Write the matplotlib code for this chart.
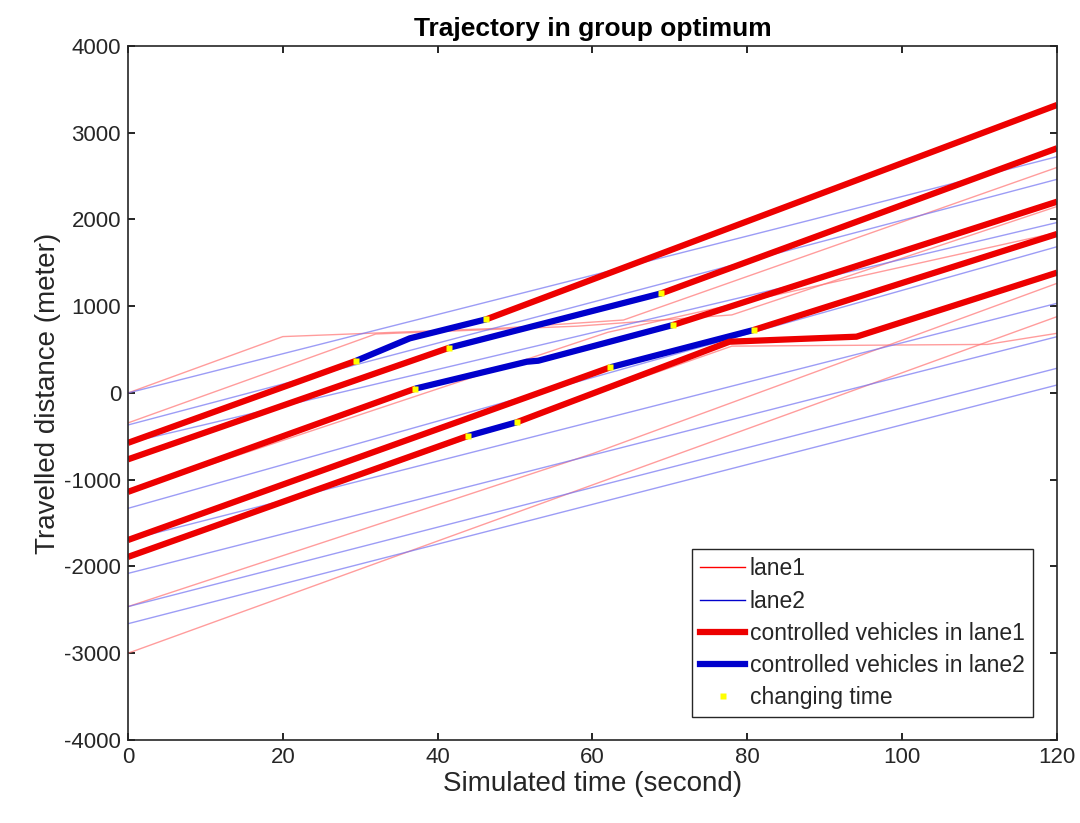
import matplotlib
matplotlib.use('Agg')
from matplotlib import pyplot as plt
from matplotlib.lines import Line2D

plt.rcParams['font.family'] = ['Liberation Sans', 'DejaVu Sans']
plt.rcParams['axes.unicode_minus'] = False

# thin trajectories, lane 1 (time in s, distance in m)
lane1_t = [
    [0, 20, 48, 64, 120],
    [0, 32, 58, 78, 120],
    [0, 62, 120],
    [0, 120],
    [0, 60, 120],
    [0, 78, 111, 120],
]
lane1_d = [
    [0, 650, 746, 841, 2600],
    [-345, 680, 770, 900, 2150],
    [-1140, 700, 1850],
    [-3000, 880],
    [-2463, -700, 1264],
    [-1890, 540, 560, 688],
]

# thin trajectories, lane 2
lane2_t = [
    [0, 88, 120],
    [0, 120],
    [0, 120],
    [0, 120],
    [0, 120],
    [0, 120],
    [0, 120],
    [0, 120],
]
lane2_d = [
    [0, 1990, 2724],
    [-369, 2463],
    [-575, 1965],
    [-1330, 1686],
    [-1695, 1034],
    [-2080, 649],
    [-2463, 285],
    [-2660, 92],
]

# controlled vehicles: list of (lane, t, d) segments
ctrl = [
    [(1, [0, 29.5], [-575, 372]),
     (2, [29.5, 36.4, 46.3], [372, 630, 850]),
     (1, [46.3, 120], [850, 3320])],
    [(1, [0, 41.5], [-765, 522]),
     (2, [41.5, 68.9], [522, 1149]),
     (1, [68.9, 120], [1149, 2821])],
    [(1, [0, 37.1], [-1140, 50]),
     (2, [37.1, 51.5, 53, 70.4], [50, 360, 372, 784]),
     (1, [70.4, 120], [784, 2205])],
    [(1, [0, 62.3], [-1695, 296]),
     (2, [62.3, 80.8], [296, 726]),
     (1, [80.8, 120], [726, 1833])],
    [(1, [0, 43.9], [-1890, -496]),
     (2, [43.9, 50.2], [-496, -338]),
     (1, [50.2, 77.7, 94.1, 120], [-338, 591, 649, 1387])],
]

# lane-change instants
change_t = [29.5, 41.5, 37.1, 46.3, 62.3, 68.9, 70.4, 80.8, 50.2, 43.9]
change_d = [372, 522, 50, 850, 296, 1149, 784, 726, -338, -496]

fig = plt.figure(figsize=(10.8, 8.23), dpi=100)
ax = fig.add_axes([0.1185, 0.1009, 0.8602, 0.8432])

for t, d in zip(lane1_t, lane1_d):
    ax.plot(t, d, color=(1, 0.45, 0.45), lw=1, alpha=0.7)
for t, d in zip(lane2_t, lane2_d):
    ax.plot(t, d, color=(0.45, 0.45, 0.95), lw=1, alpha=0.7)

for veh in ctrl:
    for lane, t, d in veh:
        c = (0.93, 0, 0) if lane == 1 else (0, 0, 0.8)
        ax.plot(t, d, color=c, lw=4.5, solid_capstyle='butt')

ax.plot(change_t, change_d, ls='none', marker='s', ms=5, color='yellow', mec='none')

ax.set_xlim(0, 120)
ax.set_ylim(-4000, 4000)
ax.set_xticks(range(0, 121, 20))
ax.set_yticks(range(-4000, 4001, 1000))
ax.tick_params(direction='in', labelsize=16, length=5, width=1.2, top=True, right=True,
               labelcolor='#262626', pad=5)
for s in ax.spines.values():
    s.set_linewidth(1.2)
    s.set_color('#262626')

ax.set_xlabel('Simulated time (second)', fontsize=20, color='#262626', labelpad=2)
ax.set_ylabel('Travelled distance (meter)', fontsize=20, color='#262626', labelpad=2)
ax.set_title('Trajectory in group optimum', fontsize=19, fontweight='bold', pad=7)

handles = [
    Line2D([], [], color='red', lw=1),
    Line2D([], [], color=(0, 0, 0.8), lw=1),
    Line2D([], [], color=(0.93, 0, 0), lw=4.5),
    Line2D([], [], color=(0, 0, 0.8), lw=4.5),
    Line2D([], [], ls='none', marker='s', ms=5, color='yellow', mec='none'),
]
labels = ['lane1', 'lane2', 'controlled vehicles in lane1',
          'controlled vehicles in lane2', 'changing time']
leg = ax.legend(handles, labels, loc='lower right', fontsize=16.5, fancybox=False,
                edgecolor='#262626', framealpha=1, handlelength=1.95, handletextpad=0.22,
                labelspacing=0.4, borderpad=0.35, borderaxespad=0.0,
                bbox_to_anchor=(0.974, 0.033))
leg.get_frame().set_linewidth(1)
for txt in leg.get_texts():
    txt.set_color('#262626')

fig.savefig('out.png', dpi=100)
